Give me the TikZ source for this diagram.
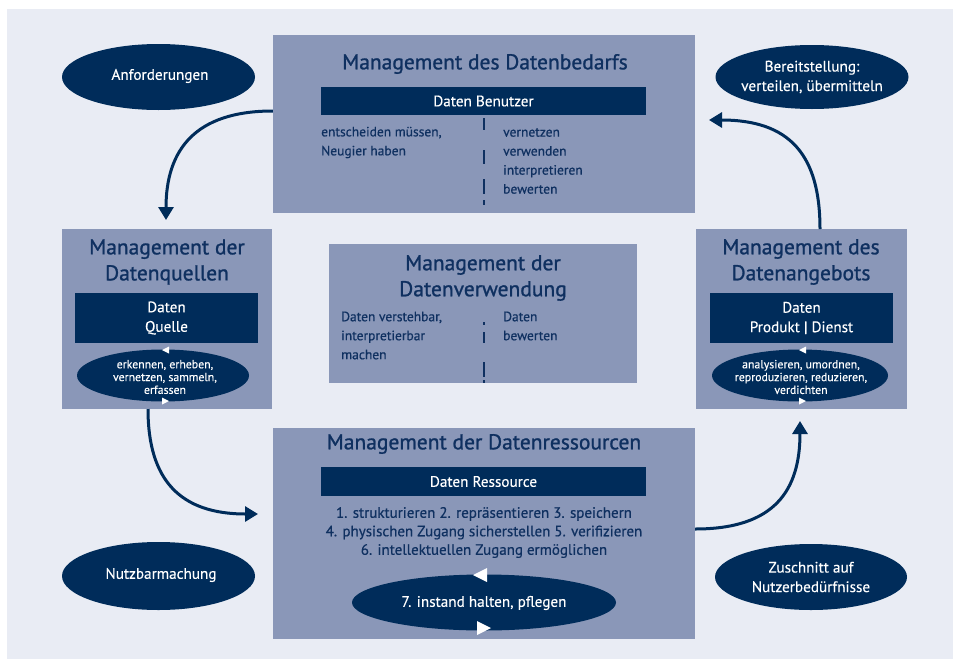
\documentclass[tikz,border=0pt]{standalone}
\usepackage{fontspec}
\setmainfont{PT Sans}
\newfontfamily\ttlfont[FakeBold=1.1]{PT Sans}
\newfontfamily\medfont[FakeBold=0.6]{PT Sans}
\newfontfamily\whfont[FakeBold=0.25]{PT Sans}
\usetikzlibrary{shapes.geometric,arrows.meta}
\definecolor{bgc}{HTML}{E9ECF4}
\definecolor{boxc}{HTML}{8A97B8}
\definecolor{navy}{HTML}{002C5A}
\definecolor{ttl}{HTML}{0F3060}
\tikzset{
  mbox/.style={rectangle, fill=boxc, inner sep=0pt},
  bar/.style={rectangle, fill=navy, inner sep=0pt},
  oval/.style={ellipse, fill=navy, inner sep=0pt},
  title/.style={text=ttl, font=\ttlfont\fontsize{21.5}{26}\selectfont, align=center, inner sep=0pt},
  body/.style={text=ttl, font=\medfont\fontsize{13.5}{19}\selectfont, inner sep=0pt},
  bodyb/.style={text=ttl, font=\medfont\fontsize{15}{18.5}\selectfont, inner sep=0pt},
  wtext/.style={text=white, font=\whfont\fontsize{15.2}{19.5}\selectfont, align=center, inner sep=0pt},
  stext/.style={text=white, font=\whfont\fontsize{11.8}{12.8}\selectfont, align=center, inner sep=0pt},
  flow/.style={navy, line width=3pt, -{Triangle[width=15pt,length=13pt]}},
  sep/.style={ttl, line width=1.2pt},
  tri/.style={fill=white},
}
\begin{document}
\begin{tikzpicture}[x=1pt,y=-1pt]
\useasboundingbox (0,0) rectangle (953,659);
\fill[white] (0,0) rectangle (953,659);
\fill[bgc] (7,9) rectangle (953,659);

% boxes
\node[mbox, minimum width=422, minimum height=178] (top) at (484,124) {};
\node[mbox, minimum width=210, minimum height=180] (left) at (167,319) {};
\node[mbox, minimum width=308, minimum height=139] (mid) at (483,313.5) {};
\node[mbox, minimum width=211, minimum height=180] (right) at (801.5,319) {};
\node[mbox, minimum width=422, minimum height=211] (bot) at (484,533.5) {};

% titles
\node[title] (ttop) at (485,64) {Management des Datenbedarfs};
\node[title] (tleft) at (167,262) {Management der\\Datenquellen};
\node[title] (tmid) at (483,278) {Management der\\Datenverwendung};
\node[title] (tright) at (801,262) {Management des\\Datenangebots};
\node[title] (tbot) at (484,444) {Management der Datenressourcen};

% dark bars
\node[bar, minimum width=325, minimum height=28] (btop) at (483.5,101) {};
\node[wtext] at (btop) {Daten Benutzer};
\node[bar, minimum width=183, minimum height=50] (bleft) at (166.5,318) {};
\node[wtext] at (bleft) {Daten\\Quelle};
\node[bar, minimum width=183, minimum height=50] (bright) at (801.5,318) {};
\node[wtext] at (bright) {Daten\\Produkt | Dienst};
\node[bar, minimum width=325, minimum height=29] (bbot) at (483.5,481.5) {};
\node[wtext] at (bbot) {Daten Ressource};

% body texts
\node[body, anchor=west, align=left] (tl1) at (321,142.5) {entscheiden müssen,\\Neugier haben};
\node[body, anchor=west, align=left] (tr1) at (503,161) {vernetzen\\verwenden\\interpretieren\\bewerten};
\draw[sep, dash pattern=on 12pt off 20pt on 14pt off 15pt on 15pt off 6pt on 5pt off 10pt] (484,118) -- (484,205);
\node[body, anchor=west, align=left] (ml1) at (341,335.5) {Daten verstehbar,\\interpretierbar\\machen};
\node[body, anchor=west, align=left] (mr1) at (503,326) {Daten\\bewerten};
\draw[sep, dash pattern=on 3pt off 7pt on 11pt off 19pt on 15pt off 3pt on 3pt off 10pt] (484,322) -- (484,383);
\node[bodyb, align=center] (bt1) at (484,532.5) {1. strukturieren 2. repräsentieren 3. speichern\\4. physischen Zugang sicherstellen 5. verifizieren\\6. intellektuellen Zugang ermöglichen};

% inner ovals
\node[oval, minimum width=172, minimum height=52] (oleft) at (163,375.5) {};
\node[stext] at (165,377) {erkennen, erheben,\\vernetzen, sammeln,\\erfassen};
\node[oval, minimum width=176, minimum height=52] (oright) at (800,375.5) {};
\node[stext] at (801,377) {analysieren, umordnen,\\reproduzieren, reduzieren,\\verdichten};
\node[oval, minimum width=264, minimum height=56] (obot) at (484,602.5) {};
\node[wtext] at (484,603) {7. instand halten, pflegen};

% small triangles
\fill[tri] (162,350) -- (169,346.5) -- (169,353.5) -- cycle;
\fill[tri] (169,401) -- (162,397.5) -- (162,404.5) -- cycle;
\fill[tri] (799,350) -- (806,346.5) -- (806,353.5) -- cycle;
\fill[tri] (806,401) -- (799,397.5) -- (799,404.5) -- cycle;
\fill[tri] (473,575) -- (487,568) -- (487,582) -- cycle;
\fill[tri] (491,628) -- (477,621) -- (477,635) -- cycle;

% outer ovals
\node[oval, minimum width=193, minimum height=66] (anf) at (158.5,77) {};
\node[wtext] at (160,76) {Anforderungen};
\node[oval, minimum width=193, minimum height=64] (ber) at (812,77) {};
\node[wtext] at (ber) {Bereitstellung:\\verteilen, übermitteln};
\node[oval, minimum width=193, minimum height=68] (nutz) at (158.5,576) {};
\node[wtext] at (161,575) {Nutzbarmachung};
\node[oval, minimum width=192, minimum height=66] (zus) at (811,577) {};
\node[wtext] at (zus) {Zuschnitt auf\\Nutzerbedürfnisse};

% arrows
\coordinate (a1s) at (top.west |- 0,111);
\coordinate (a1e) at (166,220);
\draw[flow] (a1s) .. controls (195,111) and (166,150) .. (a1e);
\coordinate (a2s) at (148,409);
\coordinate (a2e) at (258,514);
\draw[flow] (a2s) .. controls (148,480) and (180,514) .. (a2e);
\coordinate (a3s) at (bot.east |- 0,529);
\coordinate (a3e) at (800,421);
\draw[flow] (a3s) .. controls (775,529) and (800,490) .. (a3e);
\coordinate (a4s) at (820,229);
\coordinate (a4e) at (709,120);
\draw[flow] (a4s) .. controls (820,155) and (790,120) .. (a4e);
\end{tikzpicture}
\end{document}
